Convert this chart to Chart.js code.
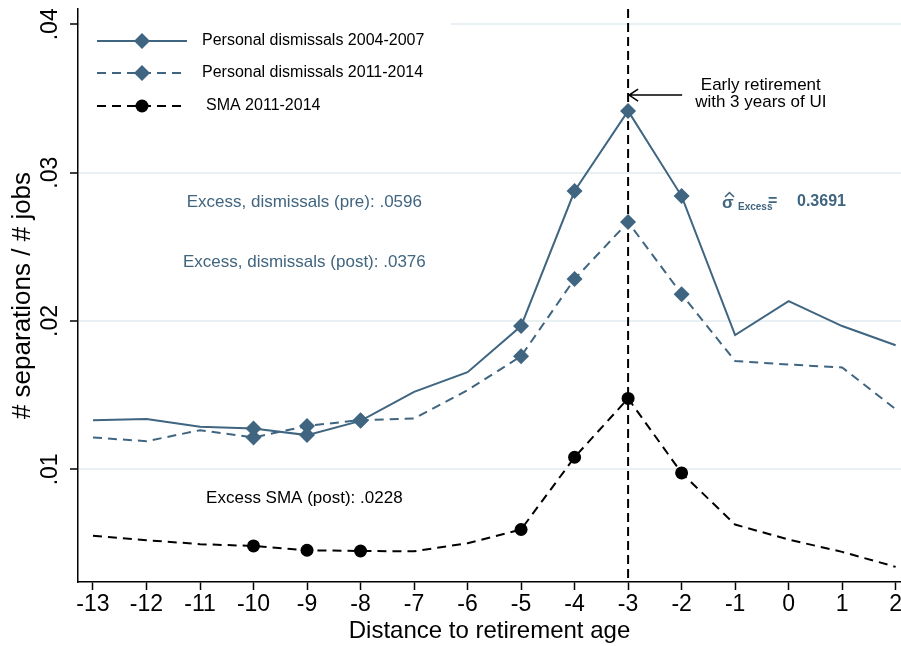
<!DOCTYPE html>
<html><head><meta charset="utf-8">
<script src="https://cdn.jsdelivr.net/npm/chart.js@4.4.1/dist/chart.umd.min.js"></script>
<style>html,body{margin:0;padding:0;background:#fff;overflow:hidden}#wrap{width:901px;height:646px;position:relative}</style>
</head><body><div id="wrap"><canvas id="c"></canvas></div>
<script>
// ---- data ----
const distance = [-13,-12,-11,-10,-9,-8,-7,-6,-5,-4,-3,-2,-1,0,1,2];
const dismissals2004_2007 = [0.01332,0.01339,0.01287,0.01276,0.01231,0.01327,0.01523,0.01655,0.01966,0.02876,0.03416,0.02842,0.01905,0.02134,0.01966,0.01837];
const dismissals2011_2014 = [0.01215,0.01190,0.01264,0.01215,0.01293,0.01332,0.01343,0.01534,0.01763,0.02283,0.02667,0.02181,0.01730,0.01707,0.01687,0.01406];
const sma2011_2014 = [0.00552,0.00523,0.00496,0.00484,0.00455,0.00450,0.00448,0.00502,0.00595,0.01082,0.01478,0.00976,0.00628,0.00527,0.00444,0.00343];
const markedDistances = [-10,-9,-8,-5,-4,-3,-2];
const seriesLabels = ['Personal dismissals 2004-2007','Personal dismissals 2011-2014','SMA 2011-2014'];
const yTickValues = [0.01,0.02,0.03,0.04];
const yTickLabels = ['.01','.02','.03','.04'];
const xTickValues = distance;
const xTickLabels = distance.map(String);
const retirementLine = -3;
const excessNotes = [
  {text:'Excess, dismissals (pre): .0596', x:-9.05, y:0.02802, color:'#41657f'},
  {text:'Excess, dismissals (post): .0376', x:-9.05, y:0.02397, color:'#41657f'},
  {text:'Excess SMA (post): .0228', x:-9.05, y:0.00806, color:'#000'}
];

const BLUE = '#3f6580';
const FONT = "'Liberation Sans', Arial, sans-serif";
const toPts = arr => arr.map((v,i)=>({x:distance[i], y:v}));
const markerR = (r) => (ctx) => markedDistances.includes(distance[ctx.dataIndex]) ? r : 0;

const overlay = {
  id:'overlay',
  beforeDatasetsDraw(chart){
    const {ctx, chartArea, scales:{x,y}} = chart;
    ctx.save();
    ctx.fillStyle = '#fff';
    ctx.fillRect(chartArea.left+2, chartArea.top, 451-chartArea.left-2, 118);
    const px = x.getPixelForValue(retirementLine);
    ctx.strokeStyle = '#000'; ctx.lineWidth = 2; ctx.setLineDash([9,5]);
    ctx.beginPath(); ctx.moveTo(px, chartArea.top); ctx.lineTo(px, chartArea.bottom); ctx.stroke();
    ctx.restore();
  },
  afterDatasetsDraw(chart){
    const {ctx, scales:{x,y}} = chart;
    ctx.save();
    const rows = [41,73,106];
    const ds = chart.data.datasets;
    rows.forEach((ry,i)=>{
      const d = ds[i];
      ctx.strokeStyle = d.borderColor; ctx.lineWidth = 2;
      ctx.setLineDash(d.borderDash || []);
      ctx.beginPath(); ctx.moveTo(97, ry); ctx.lineTo(187, ry); ctx.stroke();
      ctx.setLineDash([]);
      ctx.fillStyle = d.pointBackgroundColor;
      ctx.beginPath();
      if (d.pointStyle === 'rectRot') {
        const r = 8;
        ctx.moveTo(142-r, ry); ctx.lineTo(142, ry-r); ctx.lineTo(142+r, ry); ctx.lineTo(142, ry+r); ctx.closePath();
      } else {
        ctx.arc(142, ry, 6.5, 0, Math.PI*2);
      }
      ctx.fill();
      ctx.fillStyle = '#000'; ctx.font = '16px ' + FONT; ctx.textAlign='left'; ctx.textBaseline='middle';
      ctx.fillText(seriesLabels[i], i===2 ? 206 : 202, ry);
    });
    ctx.textAlign='center'; ctx.textBaseline='middle'; ctx.font = '17px ' + FONT;
    excessNotes.forEach(n=>{ ctx.fillStyle = n.color; ctx.fillText(n.text, x.getPixelForValue(n.x), y.getPixelForValue(n.y)); });
    ctx.fillStyle = '#000';
    const ax = x.getPixelForValue(-0.52);
    ctx.fillText('Early retirement', ax, y.getPixelForValue(0.03591));
    ctx.fillText('with 3 years of UI', ax, y.getPixelForValue(0.03476));
    const ay = y.getPixelForValue(0.03523);
    const x0 = x.getPixelForValue(-1.99), x1 = x.getPixelForValue(retirementLine) + 1;
    ctx.strokeStyle = '#000'; ctx.lineWidth = 1.5;
    ctx.beginPath(); ctx.moveTo(x0, ay); ctx.lineTo(x1, ay);
    ctx.moveTo(x1+9, ay-6); ctx.lineTo(x1, ay); ctx.lineTo(x1+9, ay+6); ctx.stroke();
    // sigma-hat annotation
    const sy = y.getPixelForValue(0.02802);
    ctx.fillStyle = BLUE; ctx.strokeStyle = BLUE; ctx.textAlign='left';
    ctx.font = 'bold 17px ' + FONT;
    ctx.fillText('\u03C3', 722, sy+1);
    ctx.lineWidth = 1.6;
    ctx.beginPath(); ctx.moveTo(725, sy-5); ctx.lineTo(729.5, sy-9.5); ctx.lineTo(734, sy-5); ctx.stroke();
    ctx.font = 'bold 10px ' + FONT;
    ctx.fillText('Excess', 738, sy+5);
    ctx.font = 'bold 16px ' + FONT;
    ctx.fillText('=', 768, sy);
    ctx.fillText('0.3691', 797, sy);
    ctx.restore();
  }
};

new Chart(document.getElementById('c'), {
  type:'line',
  data:{ datasets:[
    {label:seriesLabels[0], data:toPts(dismissals2004_2007), borderColor:BLUE, borderWidth:2, pointStyle:'rectRot', pointRadius:markerR(8), pointBackgroundColor:BLUE, pointBorderColor:BLUE, pointBorderWidth:0, tension:0},
    {label:seriesLabels[1], data:toPts(dismissals2011_2014), borderColor:BLUE, borderWidth:2, borderDash:[9,6], pointStyle:'rectRot', pointRadius:markerR(8), pointBackgroundColor:BLUE, pointBorderColor:BLUE, pointBorderWidth:0, tension:0},
    {label:seriesLabels[2], data:toPts(sma2011_2014), borderColor:'#000', borderWidth:2, borderDash:[9,6], pointStyle:'circle', pointRadius:markerR(6.5), pointBackgroundColor:'#000', pointBorderColor:'#000', pointBorderWidth:0, tension:0}
  ]},
  options:{
    responsive:true, maintainAspectRatio:false, animation:false,
    layout:{padding:{left:0,right:0,top:9,bottom:0}},
    plugins:{legend:{display:false}, tooltip:{enabled:false}},
    scales:{
      x:{type:'linear', min:-13.28, max:2.1,
        afterBuildTicks(s){ s.ticks = xTickValues.map(v=>({value:v})); },
        afterFit(s){ s.height = 64; s.paddingLeft = 0; s.paddingRight = 0; },
        ticks:{callback:(v)=>xTickLabels[xTickValues.indexOf(v)], color:'#000', font:{family:FONT,size:23}, padding:1, maxRotation:0, autoSkip:false},
        grid:{drawOnChartArea:false, tickLength:8, tickColor:'#000', tickWidth:1.5},
        border:{color:'#000', width:1.5},
        title:{display:true, text:'Distance to retirement age', color:'#000', font:{family:FONT,size:24}, padding:{top:0,bottom:0}}
      },
      y:{type:'linear', min:0.00241, max:0.04103,
        afterBuildTicks(s){ s.ticks = yTickValues.map(v=>({value:v})); },
        afterFit(s){ s.width = 78; s.paddingTop = 0; s.paddingBottom = 0; },
        ticks:{callback:(v)=>yTickLabels[yTickValues.indexOf(v)], color:'#000', font:{family:FONT,size:23}, minRotation:90, maxRotation:90, padding:3, crossAlign:'center'},
        grid:{color:'#e9f0f3', lineWidth:2, tickLength:8, tickColor:'#000', tickWidth:1.5},
        border:{color:'#000', width:1.5},
        title:{display:true, text:'# separations / # jobs', color:'#000', font:{family:FONT,size:26}, padding:{top:7,bottom:0}}
      }
    }
  },
  plugins:[overlay]
});
</script></body></html>
